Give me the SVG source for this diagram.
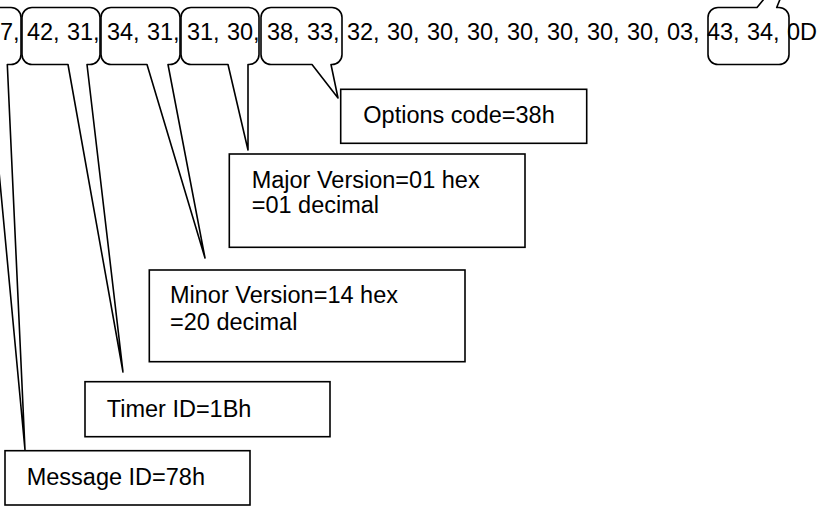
<svg xmlns="http://www.w3.org/2000/svg" width="820" height="506" viewBox="0 0 820 506">
  <style>
    .t { font-family: "Liberation Sans", Arial, sans-serif; font-size: 23.5px; fill: #000; }
    .box { fill: #fff; stroke: #000; stroke-width: 1.6; }
    .call { fill: none; stroke: #000; stroke-width: 1.6; stroke-linejoin: round; }
  </style>
  <rect x="0" y="0" width="820" height="506" fill="#fff"/>

  <!-- message bytes -->
  <g id="bytes">
    <text class="t" x="0" y="39.5" style="word-spacing:0.8px">7, 42, 31, 34, 31, 31, 30, 38, 33, 32, 30, 30, 30, 30, 30, 30, 30, 03, 43, 34, 0D</text>
  </g>

  <!-- rounded callouts wrapping byte pairs, with wedge pointers to the field labels -->
  <g id="connectors">
    <path class="call" d="M -50,7.5 H 11 A 10 10 0 0 1 21,17.5 V 54.5 A 10 10 0 0 1 11,64.5 H 7.3 L 25,450 L -11,64.5 H -50 A 10 10 0 0 1 -60,54.5 V 17.5 A 10 10 0 0 1 -50,7.5 Z"/>
    <path class="call" d="M 32,7.5 H 90 A 10 10 0 0 1 100,17.5 V 54.5 A 10 10 0 0 1 90,64.5 H 87 L 123,372 L 68,64.5 H 32 A 10 10 0 0 1 22,54.5 V 17.5 A 10 10 0 0 1 32,7.5 Z"/>
    <path class="call" d="M 111,7.5 H 170 A 10 10 0 0 1 180,17.5 V 54.5 A 10 10 0 0 1 170,64.5 H 168 L 205,258 L 147,64.5 H 111 A 10 10 0 0 1 101,54.5 V 17.5 A 10 10 0 0 1 111,7.5 Z"/>
    <path class="call" d="M 191,7.5 H 249 A 10 10 0 0 1 259,17.5 V 54.5 A 10 10 0 0 1 249,64.5 H 248 L 248,150 L 228,64.5 H 191 A 10 10 0 0 1 181,54.5 V 17.5 A 10 10 0 0 1 191,7.5 Z"/>
    <path class="call" d="M 271,7.5 H 332 A 10 10 0 0 1 342,17.5 V 54.5 A 10 10 0 0 1 332,64.5 H 331 L 338,98 L 312,64.5 H 271 A 10 10 0 0 1 261,54.5 V 17.5 A 10 10 0 0 1 271,7.5 Z"/>
    <path class="call" d="M 718,7.5 H 757 L 796,-40 L 776.7,7.5 H 779 A 10 10 0 0 1 789,17.5 V 54.5 A 10 10 0 0 1 779,64.5 H 718 A 10 10 0 0 1 708,54.5 V 17.5 A 10 10 0 0 1 718,7.5 Z"/>
  </g>

  <g id="options-code">
    <rect class="box" x="340.7" y="89.3" width="246" height="54"/>
    <text class="t" x="363.3" y="123.3">Options code=38h</text>
  </g>

  <g id="major-version">
    <rect class="box" x="229.3" y="154" width="295.7" height="93.3"/>
    <text class="t" x="251.7" y="188.3">Major Version=01 hex</text>
    <text class="t" x="251.7" y="213.3">=01 decimal</text>
  </g>

  <g id="minor-version">
    <rect class="box" x="149.3" y="270" width="315.7" height="91.7"/>
    <text class="t" x="170" y="303.3">Minor Version=14 hex</text>
    <text class="t" x="170" y="330">=20 decimal</text>
  </g>

  <g id="timer-id">
    <rect class="box" x="85" y="381.7" width="245" height="55"/>
    <text class="t" x="106.7" y="416.5">Timer ID=1Bh</text>
  </g>

  <g id="message-id">
    <rect class="box" x="5" y="450.7" width="245" height="54.3"/>
    <text class="t" x="26.7" y="485">Message ID=78h</text>
  </g>
</svg>
